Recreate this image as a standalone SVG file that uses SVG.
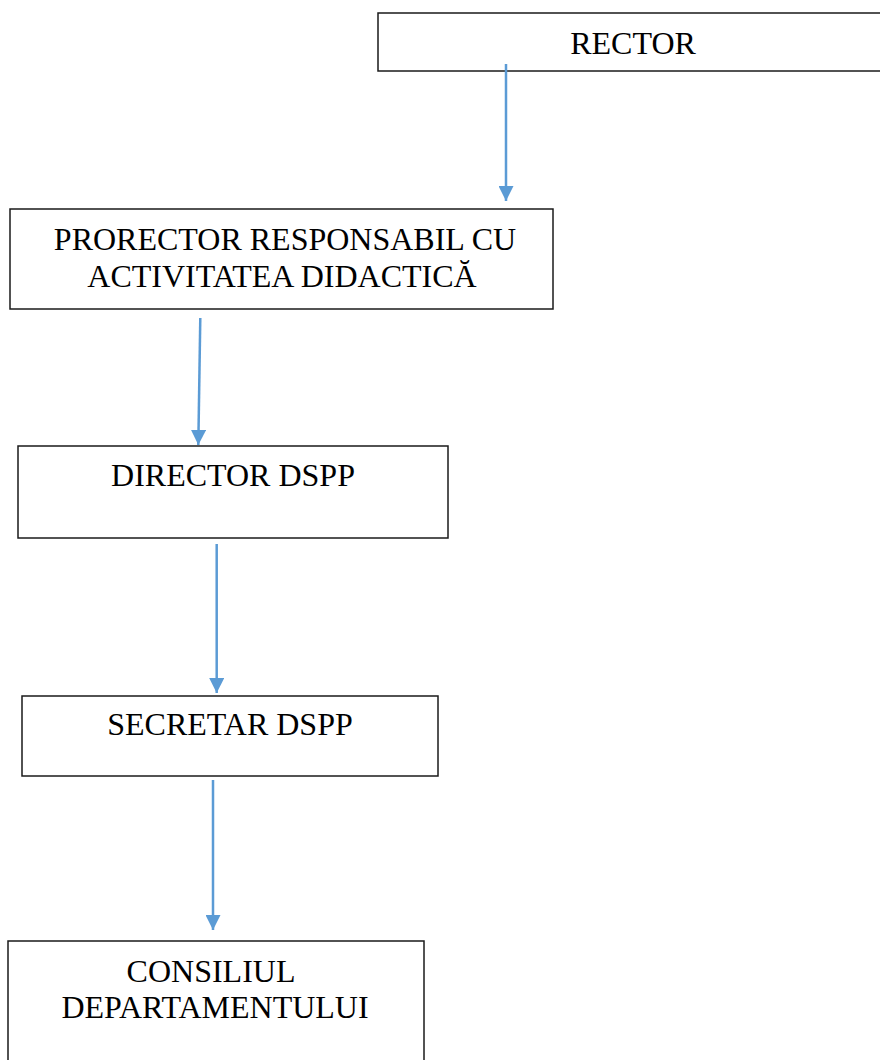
<svg xmlns="http://www.w3.org/2000/svg" width="880" height="1060" viewBox="0 0 880 1060">
<defs>
<style>
.box{fill:#fff;stroke:#1a1a1a;stroke-width:1.5}
.t{font-family:"Liberation Serif","Times New Roman",serif;font-size:32px;fill:#000;text-anchor:middle}
.c{stroke:#5B9BD5;stroke-width:2.5;fill:none}
</style>
<marker id="ah" markerUnits="userSpaceOnUse" markerWidth="15" markerHeight="15" refX="15" refY="7.5" orient="auto">
<path d="M0,0 L15,7.5 L0,15 z" fill="#5B9BD5"/>
</marker>
</defs>
<rect width="880" height="1060" fill="#fff"/>
<g id="rector">
<rect class="box" x="378" y="13" width="520" height="58"/>
<text class="t" x="633" y="54">RECTOR</text>
</g>
<g id="prorector">
<rect class="box" x="10" y="209" width="543" height="100"/>
<text class="t" x="285" y="250">PRORECTOR RESPONSABIL CU</text>
<text class="t" x="282" y="287">ACTIVITATEA DIDACTICĂ</text>
</g>
<g id="director">
<rect class="box" x="18" y="446" width="430" height="92"/>
<text class="t" x="233" y="486">DIRECTOR DSPP</text>
</g>
<g id="secretar">
<rect class="box" x="22" y="696" width="416" height="80"/>
<text class="t" x="230" y="735">SECRETAR DSPP</text>
</g>
<g id="consiliul">
<rect class="box" x="8" y="941" width="416" height="140"/>
<text class="t" x="211" y="982">CONSILIUL</text>
<text class="t" x="215" y="1018">DEPARTAMENTULUI</text>
</g>
<g id="connectors">
<line class="c" x1="506" y1="64" x2="506" y2="201" marker-end="url(#ah)"/>
<line class="c" x1="200.3" y1="318" x2="198.3" y2="445" marker-end="url(#ah)"/>
<line class="c" x1="216.7" y1="544" x2="216.7" y2="693" marker-end="url(#ah)"/>
<line class="c" x1="213" y1="780" x2="213" y2="930" marker-end="url(#ah)"/>
</g>
</svg>
